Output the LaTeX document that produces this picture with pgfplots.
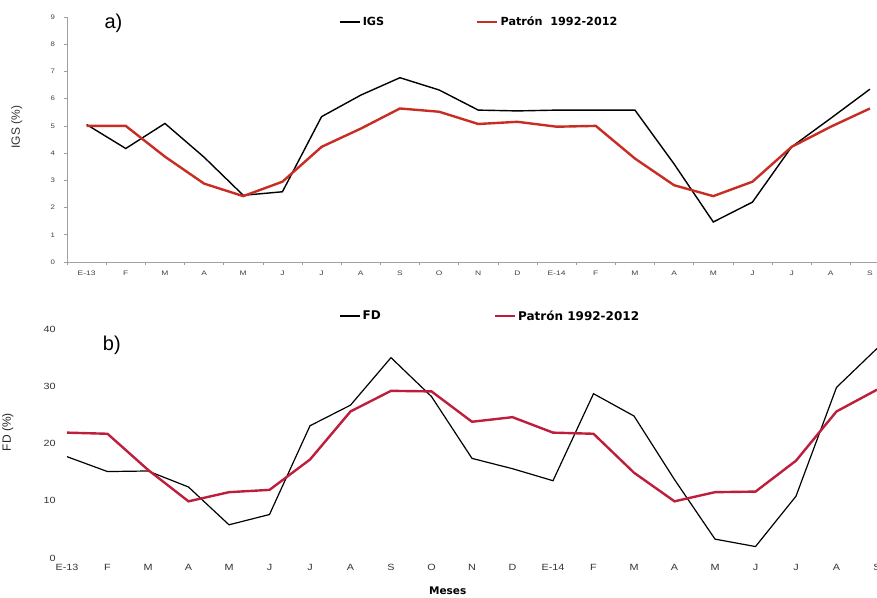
\documentclass[border=0pt]{standalone}
\usepackage{pgfplots}
\usepackage{pgfplotstable}
\pgfplotsset{compat=1.18}
\usepackage{fontspec}
\setmainfont{Liberation Sans}
\newfontfamily\deja{DejaVu Sans}
\definecolor{redA}{RGB}{200,45,35}
\definecolor{redB}{RGB}{190,30,60}
\definecolor{axgray}{RGB}{160,160,160}

\pgfplotstableread{
x igs pat
0 5.05 5.0
1 4.17 5.0
2 5.09 3.87
3 3.85 2.88
4 2.45 2.42
5 2.58 2.95
6 5.34 4.23
7 6.13 4.9
8 6.77 5.64
9 6.32 5.52
10 5.58 5.07
11 5.55 5.15
12 5.58 4.97
13 5.58 5.0
14 5.58 3.8
15 3.6 2.82
16 1.47 2.42
17 2.2 2.95
18 4.23 4.23
19 5.28 4.97
20 6.35 5.64
}\topdata

\pgfplotstableread{
x fd pat
0 17.7 21.9
1 15.1 21.7
2 15.2 15.4
3 12.4 9.9
4 5.8 11.5
5 7.6 11.9
6 23.1 17.2
7 26.7 25.6
8 35.0 29.2
9 28.2 29.1
10 17.4 23.8
11 15.6 24.6
12 13.5 21.9
13 28.7 21.7
14 24.8 14.9
15 13.7 9.9
16 3.3 11.5
17 2.0 11.6
18 10.8 17.0
19 29.8 25.6
20 36.6 29.4
}\botdata

\begin{document}
\begin{tikzpicture}[x=1pt,y=1pt]
\useasboundingbox (0,0) rectangle (877,-597);
\clip (0,0) rectangle (877,-597);
% ---------- top panel ----------
\begin{axis}[
  scale only axis,
  width=810pt, height=245pt,
  at={(67pt,-262pt)}, anchor=south west,
  xmin=-0.5, xmax=20.18,
  ymin=0, ymax=9,
  ytick={0,...,9},
  xtick={0,...,20},
  xticklabels={E-13,F,M,A,M,J,J,A,S,O,N,D,E-14,F,M,A,M,J,J,A,S},
  minor xtick={-0.5,0.5,...,20.5},
  axis x line*=bottom, axis y line*=left,
  axis line style={axgray, line width=0.8pt, -},
  major x tick style={draw=none},
  minor x tick style={axgray, line width=0.6pt},
  minor tick length=3pt,
  y tick style={axgray, line width=0.6pt},
  tick align=outside,
  major tick length=3pt,
  /pgf/number format/assume math mode=true,
  xticklabel style={font=\fontsize{6.5}{7}\selectfont, text=black!75, xscale=1.3, yshift=-2pt},
  yticklabel style={font=\fontsize{6.5}{7}\selectfont, text=black!75, xscale=1.2, xshift=-4pt},
  ylabel={IGS (\%)},
  ylabel style={at={(axis description cs:-0.062,0.55)}, anchor=center, font=\fontsize{12}{14}\selectfont, text=black!80},
  legend columns=2,
  legend style={draw=none, fill=none, at={(rel axis cs:0.336,0.98)}, anchor=west,
    font=\deja\bfseries\fontsize{11.2}{13}\selectfont, inner sep=0pt,
    /tikz/every even column/.append style={column sep=90pt}},
  legend image code/.code={\draw[#1] (0pt,0pt) -- (20pt,0pt);},
  clip=false,
]
\addplot[black, line width=1.4pt] table[x=x,y=igs]{\topdata};
\addlegendentry{IGS}
\addplot[redA, line width=2.4pt] table[x=x,y=pat]{\topdata};
\addlegendentry{Patrón\ \ 1992-2012}
\node[anchor=west, font=\fontsize{20}{22}\selectfont] at (rel axis cs:0.042,0.975) {a)};
\end{axis}
% ---------- bottom panel ----------
\begin{axis}[
  scale only axis,
  width=810pt, height=229pt,
  at={(67pt,-558pt)}, anchor=south west,
  xmin=0, xmax=20,
  ymin=0, ymax=40,
  ytick={0,10,20,30,40},
  xtick={0,...,20},
  xticklabels={E-13,F,M,A,M,J,J,A,S,O,N,D,E-14,F,M,A,M,J,J,A,S},
  axis line style={draw=none},
  tick style={draw=none},
  /pgf/number format/assume math mode=true,
  xticklabel style={font=\fontsize{9}{10}\selectfont, text=black!80, xscale=1.2, yshift=-3pt},
  yticklabel style={font=\fontsize{9}{10}\selectfont, text=black!80, xscale=1.2, xshift=-6pt},
  ylabel={FD (\%)},
  ylabel style={at={(axis description cs:-0.073,0.55)}, anchor=center, font=\fontsize{12}{14}\selectfont, text=black!85},
  xlabel={Meses},
  xlabel style={at={(axis description cs:0.47,-0.144)}, anchor=center, font=\deja\bfseries\fontsize{10.5}{12}\selectfont},
  legend columns=2,
  legend style={draw=none, fill=none, at={(rel axis cs:0.336,1.057)}, anchor=west,
    font=\deja\bfseries\fontsize{12}{14}\selectfont, inner sep=0pt,
    /tikz/every even column/.append style={column sep=111pt}},
  legend image code/.code={\draw[#1] (0pt,0pt) -- (20pt,0pt);},
  clip=false,
]
\addplot[black, line width=1.2pt] table[x=x,y=fd]{\botdata};
\addlegendentry{FD}
\addplot[redB, line width=2.4pt] table[x=x,y=pat]{\botdata};
\addlegendentry{Patrón 1992-2012}
\node[anchor=west, font=\fontsize{20}{22}\selectfont] at (rel axis cs:0.040,0.93) {b)};
\end{axis}
\end{tikzpicture}
\end{document}
